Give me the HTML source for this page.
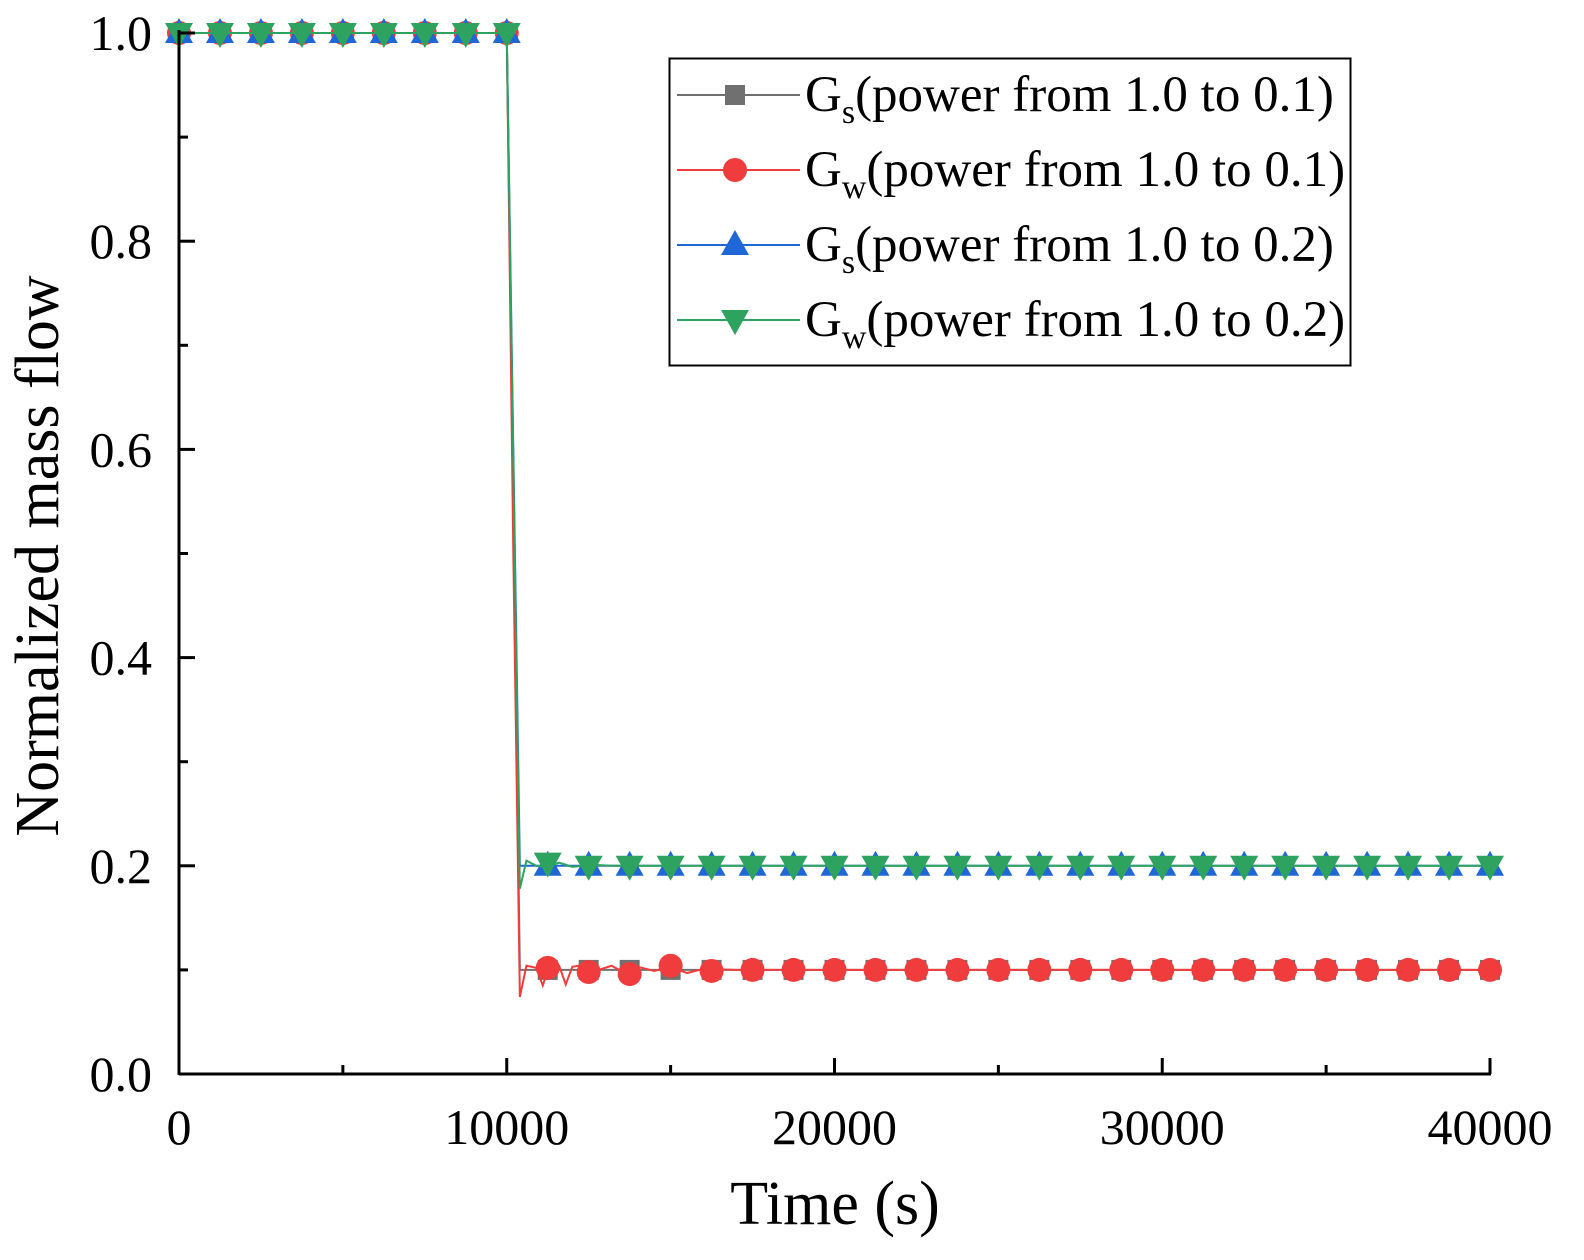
<!DOCTYPE html>
<html><head><meta charset="utf-8"><style>
body{margin:0;background:#fff}
svg{display:block;font-family:"Liberation Serif",serif}
</style></head><body>
<svg id="chart" width="1584" height="1260" viewBox="0 0 1584 1260" xmlns="http://www.w3.org/2000/svg">
<g id="series"></g>
<g id="axes"></g>
<text x="835" y="1224" font-size="62" text-anchor="middle">Time (s)</text>
<text transform="translate(58,556) rotate(-90)" font-size="62" text-anchor="middle">Normalized mass flow</text>
<g id="legend"></g>
</svg>
<script>
const xTicks=[0,10000,20000,30000,40000];
const yTicks=[0.0,0.2,0.4,0.6,0.8,1.0];
const markerTimes=[0,1250,2500,3750,5000,6250,7500,8750,10000,11250,12500,13750,15000,16250,17500,18750,20000,21250,22500,23750,25000,26250,27500,28750,30000,31250,32500,33750,35000,36250,37500,38750,40000];
const gs1Markers=[1,1,1,1,1,1,1,1,1,0.1,0.1,0.1,0.1,0.1,0.1,0.1,0.1,0.1,0.1,0.1,0.1,0.1,0.1,0.1,0.1,0.1,0.1,0.1,0.1,0.1,0.1,0.1,0.1];
const gw1Markers=[1,1,1,1,1,1,1,1,1,0.102,0.098,0.096,0.104,0.099,0.1,0.1,0.1,0.1,0.1,0.1,0.1,0.1,0.1,0.1,0.1,0.1,0.1,0.1,0.1,0.1,0.1,0.1,0.1];
const gs2Markers=[1,1,1,1,1,1,1,1,1,0.2,0.2,0.2,0.2,0.2,0.2,0.2,0.2,0.2,0.2,0.2,0.2,0.2,0.2,0.2,0.2,0.2,0.2,0.2,0.2,0.2,0.2,0.2,0.2];
const gw2Markers=[1,1,1,1,1,1,1,1,1,0.203,0.2,0.2,0.2,0.2,0.2,0.2,0.2,0.2,0.2,0.2,0.2,0.2,0.2,0.2,0.2,0.2,0.2,0.2,0.2,0.2,0.2,0.2,0.2];
const gs1LineT=[0,10000,10400,10500,40000];
const gs1LineV=[1,1,0.1,0.1,0.1];
const gw1LineT=[0,10000,10200,10400,10600,10900,11100,11300,11600,11800,12000,12400,12800,13200,13600,14000,14500,15000,15500,16000,17000,40000];
const gw1LineV=[1,1,0.5,0.074,0.104,0.102,0.085,0.104,0.104,0.086,0.103,0.105,0.1,0.104,0.097,0.103,0.099,0.103,0.097,0.101,0.1,0.1];
const gs2LineT=[0,10000,10400,10500,40000];
const gs2LineV=[1,1,0.2,0.2,0.2];
const gw2LineT=[0,10000,10400,10600,10900,11200,11600,12000,12600,13200,40000];
const gw2LineV=[1,1,0.178,0.205,0.2,0.199,0.203,0.199,0.201,0.2,0.2];

const X0=179,X1=1490,Y0=1074,Y1=33;
const xs=t=>X0+(t/40000)*(X1-X0);
const ys=v=>Y0-v*(Y0-Y1);
const NS="http://www.w3.org/2000/svg";
function mk(tag,attrs,parent){const e=document.createElementNS(NS,tag);for(const k in attrs)e.setAttribute(k,attrs[k]);parent.appendChild(e);return e;}
const series=document.getElementById('series'),axes=document.getElementById('axes'),legend=document.getElementById('legend');

function marker(type,x,y,color,parent){
  let e;
  if(type==='square')e=mk('rect',{x:x-10,y:y-10,width:20,height:20,fill:color},parent);
  else if(type==='circle')e=mk('circle',{cx:x,cy:y,r:12,fill:color},parent);
  else if(type==='up')e=mk('polygon',{points:`${x},${y-15} ${x-14},${y+10} ${x+14},${y+10}`,fill:color},parent);
  else e=mk('polygon',{points:`${x},${y+15} ${x-14},${y-10} ${x+14},${y-10}`,fill:color},parent);
  return e;
}
const defs=[
 {name:'gs-power-0-1',T:gs1LineT,V:gs1LineV,M:gs1Markers,color:'#707070',type:'square'},
 {name:'gw-power-0-1',T:gw1LineT,V:gw1LineV,M:gw1Markers,color:'#f03c3c',type:'circle'},
 {name:'gs-power-0-2',T:gs2LineT,V:gs2LineV,M:gs2Markers,color:'#1f66d6',type:'up'},
 {name:'gw-power-0-2',T:gw2LineT,V:gw2LineV,M:gw2Markers,color:'#2ea35f',type:'down'}
];
defs.forEach(d=>{
  const g=mk('g',{},series);
  
  
  const pl=mk('polyline',{points:d.T.map((t,i)=>xs(t)+','+ys(d.V[i])).join(' '),fill:'none',stroke:d.color,'stroke-width':2},g);
  
  
  markerTimes.forEach((t,i)=>{
    const m=marker(d.type,xs(t),ys(d.M[i]),d.color,g);
    
    
  });
});
mk('line',{x1:X0,y1:Y0,x2:X1+1,y2:Y0,stroke:'#000','stroke-width':3},axes);
mk('line',{x1:X0,y1:Y0+1,x2:X0,y2:Y1-3,stroke:'#000','stroke-width':3},axes);
for(let t=0;t<=40000;t+=5000){
  const major=t%10000===0;
  mk('line',{x1:xs(t),y1:Y0,x2:xs(t),y2:Y0-(major?16:9),stroke:'#000','stroke-width':3},axes);
}
xTicks.forEach(t=>{
  const e=mk('text',{x:xs(t),y:1144,'font-size':50,'text-anchor':'middle'},axes);
  e.textContent=String(t);
  
  
});
for(let i=0;i<=10;i++){
  const v=i/10,major=i%2===0;
  mk('line',{x1:X0,y1:ys(v),x2:X0+(major?16:9),y2:ys(v),stroke:'#000','stroke-width':3},axes);
}
yTicks.forEach(v=>{
  const e=mk('text',{x:152,y:ys(v)+17,'font-size':50,'text-anchor':'end'},axes);
  e.textContent=v.toFixed(1);
  
  
});
mk('rect',{x:669.5,y:58.5,width:681,height:307,fill:'#fff',stroke:'#000','stroke-width':2},legend);
const labels=[['s','1'],['w','1'],['s','2'],['w','2']];
defs.forEach((d,i)=>{
  const y=95+i*75;
  const g=mk('g',{},legend);
  
  
  mk('line',{x1:677,y1:y,x2:800,y2:y,stroke:d.color,'stroke-width':2},g);
  marker(d.type,735,y,d.color,g);
  const tx=mk('text',{x:805,y:y+16,'font-size':51},g);
  tx.innerHTML='G<tspan font-size="34" dy="12">'+labels[i][0]+'</tspan><tspan dy="-12">(power from 1.0 to 0.'+labels[i][1]+')</tspan>';
});
</script>
</body></html>
